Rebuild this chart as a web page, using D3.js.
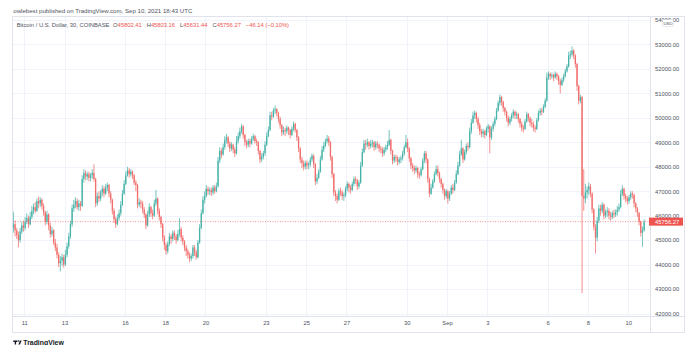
<!DOCTYPE html>
<html>
<head>
<meta charset="utf-8">
<script src="https://cdn.jsdelivr.net/npm/d3@7"></script>
<style>
  html, body { margin: 0; padding: 0; background: #ffffff; }
  svg { display: block; font-family: "Liberation Sans", Arial, sans-serif; }
</style>
</head>
<body>
<svg id="chart" width="687" height="345"></svg>
<script>
// BTC/USD on Coinbase, two-hour bars from 10 Aug 2021 10:00 UTC to 10 Sep 2021 18:00 UTC.
// Each bar opens at the previous bar's close; the first open is given separately.
const firstOpen = 45500;
const barStartUTC = Date.UTC(2021, 7, 10, 10);
const barHours = 2;

const closes = [
  /* Aug 10 */ 45650, 45400, 45200, 45000, 45350, 45600, 45500,
  /* Aug 11 */ 45750, 45900, 45650, 45950, 46200, 46350, 46200, 46600, 46500, 46650, 46400, 46150,
  /* Aug 12 */ 45750, 46050, 45600, 45250, 45400, 44900, 44700, 44400, 44050, 44150, 44300, 44000,
  /* Aug 13 */ 44400, 44750, 45150, 45650, 46300, 46450, 46600, 46350, 46500, 46400, 47500, 47750,
  /* Aug 14 */ 47600, 47700, 47550, 47650, 47750, 47500, 46500, 46800, 46700, 46950, 47100, 46900,
  /* Aug 15 */ 47150, 47250, 46900, 46650, 46200, 45850, 45650, 45900, 46100, 46450, 46900, 47300,
  /* Aug 16 */ 47650, 47850, 47700, 47800, 47650, 47350, 47250, 46450, 46550, 46500, 46250, 46050,
  /* Aug 17 */ 45600, 46050, 46350, 46100, 46000, 46500, 46700, 46200, 45950, 45650, 45100, 44800,
  /* Aug 18 */ 44550, 44850, 45150, 45050, 45300, 45150, 45000, 45250, 45450, 45100, 44950, 44700,
  /* Aug 19 */ 44550, 44400, 44250, 44350, 44700, 44500, 44300, 44900, 45500, 46100, 46650, 46800,
  /* Aug 20 */ 47100, 47000, 47050, 46950, 47150, 47000, 47200, 48250, 48650, 48500, 48800, 49100,
  /* Aug 21 */ 49200, 48950, 48750, 48900, 48700, 48550, 49050, 49250, 49450, 49650, 49300, 49000,
  /* Aug 22 */ 48900, 49050, 48950, 49150, 49250, 49050, 49000, 48650, 48300, 48400, 48550, 48900,
  /* Aug 23 */ 49250, 49500, 50100, 50050, 50300, 50350, 50200, 49950, 49700, 49400, 49500, 49450,
  /* Aug 24 */ 49600, 49500, 49300, 49550, 49750, 49500, 49200, 48750, 48300, 48150, 48000, 48150,
  /* Aug 25 */ 48050, 48100, 48300, 48450, 48100, 47400, 47550, 47800, 48300, 48700, 48850, 49050,
  /* Aug 26 */ 49150, 49000, 48400, 47700, 46950, 46800, 46650, 47000, 46950, 46800, 46850, 47100,
  /* Aug 27 */ 47300, 47150, 47050, 47300, 47500, 47450, 47200, 47350, 48050, 48600, 48950, 48900,
  /* Aug 28 */ 49000, 48850, 48950, 49000, 48800, 48950, 48900, 48750, 48700, 48550, 48700, 48800,
  /* Aug 29 */ 48900, 49100, 48650, 48250, 48400, 48350, 48200, 48300, 48350, 48550, 48800, 49000,
  /* Aug 30 */ 48750, 48350, 48050, 47950, 47850, 47950, 47700, 47650, 47900, 48250, 48550, 48300,
  /* Aug 31 */ 47500, 46900, 47150, 47400, 47700, 47900, 47750, 47500, 47300, 47050, 46800, 47000,
  /* Sep 1  */ 46700, 46900, 47150, 47050, 47350, 47700, 48050, 48500, 48750, 48300, 48600, 48850,
  /* Sep 2  */ 48800, 49450, 49800, 50100, 50200, 49950, 49700, 49450, 49350, 49450, 49300, 49550,
  /* Sep 3  */ 49650, 49200, 49550, 49750, 49950, 50300, 50600, 50850, 50650, 50400, 50250, 50000,
  /* Sep 4  */ 49800, 49950, 50100, 50250, 50100, 50150, 49950, 49750, 49600, 49550, 49850, 50150,
  /* Sep 5  */ 50000, 49800, 49750, 49600, 49550, 49900, 50200, 50300, 50250, 50450, 50700, 51650,
  /* Sep 6  */ 51800, 51700, 51750, 51650, 51800, 51700, 51500, 51350, 51550, 51700, 51900, 52100,
  /* Sep 7  */ 52550, 52600, 52750, 52550, 52200, 51300, 50700, 50850, 46800, 46700, 46950, 47050,
  /* Sep 8  */ 47200, 46900, 46250, 45550, 45100, 45800, 46300, 46200, 46450, 46000, 46150, 46200,
  /* Sep 9  */ 46000, 45950, 46100, 46050, 46150, 46250, 46350, 46900, 47100, 46800, 46700, 46600,
  /* Sep 10 */ 46750, 46900, 46850, 46500, 46300, 46100, 45750, 45300, 45400, 45756.27
];

const highs = [
  /* Aug 10 */ 46160, 45800, 45500, 45350, 45500, 45750, 45800,
  /* Aug 11 */ 45950, 46100, 46000, 46150, 46400, 46500, 46550, 46700, 46780, 46750, 46700, 46500,
  /* Aug 12 */ 46200, 46200, 46100, 45700, 45550, 45450, 45050, 44850, 44500, 44350, 44450, 44400,
  /* Aug 13 */ 44600, 44900, 45300, 45800, 46450, 46650, 46750, 46700, 46650, 46600, 47650, 47900,
  /* Aug 14 */ 47850, 47800, 47800, 47750, 47900, 48100, 47550, 46950, 47000, 47050, 47250, 47200,
  /* Aug 15 */ 47300, 47350, 47300, 47000, 46700, 46300, 45950, 46050, 46250, 46600, 47050, 47450,
  /* Aug 16 */ 47800, 48000, 47950, 47900, 47850, 47700, 47450, 47300, 46700, 46650, 46600, 46350,
  /* Aug 17 */ 46100, 46200, 46500, 46400, 46250, 46650, 47050, 46750, 46300, 46000, 45700, 45200,
  /* Aug 18 */ 44900, 44950, 45300, 45250, 45400, 45400, 45250, 45400, 45900, 45550, 45200, 45000,
  /* Aug 19 */ 44800, 44650, 44500, 44450, 44800, 44800, 44600, 45000, 45650, 46250, 46800, 47000,
  /* Aug 20 */ 47250, 47200, 47150, 47150, 47250, 47250, 47350, 48400, 48800, 48750, 48950, 49250,
  /* Aug 21 */ 49350, 49250, 49050, 49000, 48950, 48800, 49250, 49400, 49600, 49750, 49700, 49350,
  /* Aug 22 */ 49100, 49150, 49150, 49250, 49350, 49300, 49150, 49050, 48700, 48550, 48650, 49050,
  /* Aug 23 */ 49400, 49650, 50250, 50250, 50400, 50500, 50400, 50250, 50050, 49750, 49650, 49600,
  /* Aug 24 */ 49700, 49650, 49550, 49650, 49850, 49800, 49550, 49250, 48800, 48400, 48250, 48250,
  /* Aug 25 */ 48250, 48200, 48400, 48550, 48500, 48150, 47700, 47900, 48450, 48850, 49000, 49150,
  /* Aug 26 */ 49300, 49250, 49050, 48450, 47750, 47050, 46900, 47100, 47150, 47050, 46950, 47200,
  /* Aug 27 */ 47400, 47350, 47250, 47400, 47600, 47600, 47500, 47450, 48200, 48750, 49100, 49100,
  /* Aug 28 */ 49150, 49050, 49100, 49100, 49050, 49050, 49050, 48950, 48850, 48800, 48800, 48900,
  /* Aug 29 */ 49050, 49500, 49150, 48700, 48500, 48500, 48450, 48400, 48450, 48650, 48900, 49300,
  /* Aug 30 */ 49150, 48800, 48400, 48150, 48050, 48050, 48000, 47800, 48000, 48350, 48650, 48650,
  /* Aug 31 */ 48350, 47550, 47300, 47500, 47800, 48050, 48050, 47800, 47550, 47350, 47100, 47100,
  /* Sep 1  */ 47050, 47000, 47250, 47300, 47450, 47850, 48200, 48650, 49100, 48800, 48700, 48950,
  /* Sep 2  */ 49000, 49600, 49950, 50250, 50300, 50250, 50050, 49800, 49550, 49550, 49500, 49650,
  /* Sep 3  */ 49750, 49700, 49650, 49850, 50050, 50400, 50700, 50950, 50900, 50700, 50450, 50300,
  /* Sep 4  */ 50100, 50050, 50200, 50350, 50300, 50250, 50200, 50000, 49850, 49700, 49950, 50250,
  /* Sep 5  */ 50200, 50050, 49950, 49850, 49700, 50000, 50300, 50400, 50400, 50550, 50800, 51850,
  /* Sep 6  */ 51900, 51850, 51850, 51800, 51900, 51850, 51750, 51600, 51650, 51800, 52000, 52200,
  /* Sep 7  */ 52700, 52750, 52920, 52800, 52600, 52250, 51350, 50950, 50900, 47900, 47300, 47200,
  /* Sep 8  */ 47350, 47300, 46950, 46300, 45650, 45950, 46450, 46450, 46550, 46500, 46250, 46350,
  /* Sep 9  */ 46300, 46150, 46200, 46250, 46250, 46400, 46500, 47050, 47250, 47150, 46900, 46800,
  /* Sep 10 */ 46850, 47000, 47000, 46900, 46550, 46350, 46150, 45800, 45550, 45850
];

const lows = [
  /* Aug 10 */ 45300, 45150, 45050, 44700, 44900, 45250, 45350,
  /* Aug 11 */ 45400, 45650, 45500, 45600, 45850, 46050, 46100, 46150, 46300, 46350, 46250, 46000,
  /* Aug 12 */ 45600, 45650, 45400, 45100, 45150, 44800, 44550, 44250, 43900, 43720, 43950, 43880,
  /* Aug 13 */ 43950, 44300, 44650, 45050, 45550, 46150, 46300, 46250, 46200, 46200, 46350, 47350,
  /* Aug 14 */ 47450, 47450, 47400, 47400, 47500, 47400, 46350, 46400, 46550, 46600, 46800, 46750,
  /* Aug 15 */ 46850, 47000, 46750, 46500, 46050, 45700, 45500, 45600, 45800, 46000, 46400, 46850,
  /* Aug 16 */ 47250, 47600, 47550, 47600, 47500, 47250, 47000, 46300, 46350, 46300, 46100, 45900,
  /* Aug 17 */ 45450, 45550, 45950, 45950, 45850, 45950, 46400, 46050, 45800, 45500, 44950, 44600,
  /* Aug 18 */ 44400, 44450, 44750, 44850, 44950, 45000, 44850, 44950, 45150, 44950, 44800, 44550,
  /* Aug 19 */ 44350, 44250, 44100, 44150, 44250, 44350, 44200, 44250, 44850, 45450, 46050, 46500,
  /* Aug 20 */ 46750, 46850, 46850, 46800, 46850, 46900, 46950, 47150, 48150, 48350, 48450, 48700,
  /* Aug 21 */ 48950, 48800, 48600, 48650, 48550, 48400, 48500, 48950, 49150, 49350, 49150, 48850,
  /* Aug 22 */ 48750, 48800, 48800, 48900, 49050, 48950, 48850, 48500, 48150, 48200, 48300, 48450,
  /* Aug 23 */ 48850, 49200, 49450, 49900, 50000, 50150, 50050, 49800, 49550, 49250, 49300, 49250,
  /* Aug 24 */ 49350, 49300, 49150, 49250, 49450, 49400, 49050, 48600, 48150, 47950, 47850, 47900,
  /* Aug 25 */ 47900, 47900, 48000, 48200, 47950, 47250, 47300, 47500, 47750, 48250, 48600, 48800,
  /* Aug 26 */ 48950, 48850, 48250, 47550, 46800, 46600, 46500, 46600, 46800, 46650, 46600, 46750,
  /* Aug 27 */ 47000, 46950, 46900, 47000, 47200, 47300, 47050, 47100, 47300, 48000, 48550, 48700,
  /* Aug 28 */ 48800, 48700, 48750, 48800, 48650, 48700, 48750, 48600, 48550, 48400, 48450, 48600,
  /* Aug 29 */ 48700, 48850, 48500, 48100, 48150, 48200, 48050, 48100, 48150, 48250, 48450, 48750,
  /* Aug 30 */ 48600, 48200, 47900, 47800, 47700, 47750, 47550, 47500, 47600, 47850, 48150, 48150,
  /* Aug 31 */ 47350, 46750, 46850, 47100, 47350, 47650, 47600, 47350, 47150, 46900, 46650, 46700,
  /* Sep 1  */ 46500, 46600, 46850, 46900, 47000, 47300, 47650, 48000, 48450, 48150, 48250, 48500,
  /* Sep 2  */ 48650, 48750, 49350, 49750, 49950, 49800, 49550, 49300, 49200, 49200, 49150, 49250,
  /* Sep 3  */ 49400, 48550, 49100, 49450, 49650, 49900, 50250, 50500, 50500, 50250, 50100, 49850,
  /* Sep 4  */ 49650, 49700, 49850, 50000, 49950, 49950, 49800, 49600, 49450, 49400, 49500, 49800,
  /* Sep 5  */ 49850, 49650, 49600, 49450, 49400, 49500, 49850, 50100, 50100, 50200, 50400, 50650,
  /* Sep 6  */ 51550, 51550, 51600, 51500, 51600, 51550, 51350, 51000, 51300, 51450, 51650, 51850,
  /* Sep 7  */ 52050, 52400, 52500, 52400, 52050, 51100, 50550, 50600, 42830, 46200, 46500, 46700,
  /* Sep 8  */ 46850, 46750, 46100, 45400, 44450, 44950, 45700, 46000, 46100, 45850, 45900, 45950,
  /* Sep 9  */ 45850, 45800, 45850, 45900, 45950, 46000, 46150, 46300, 46800, 46650, 46550, 46450,
  /* Sep 10 */ 46500, 46650, 46700, 46350, 46150, 45950, 45600, 45150, 44730, 45350
];

// Price scale ticks and date ticks shown on the axes
const priceTicks = [42000, 43000, 44000, 45000, 46000, 47000, 48000, 49000, 50000, 51000, 52000, 53000, 54000];
const dateTicks = ["2021-08-11", "2021-08-13", "2021-08-16", "2021-08-18", "2021-08-20", "2021-08-23",
                   "2021-08-25", "2021-08-27", "2021-08-30", "2021-09-01", "2021-09-03", "2021-09-06",
                   "2021-09-08", "2021-09-10"];
const dateTickLabels = ["11", "13", "16", "18", "20", "23", "25", "27", "30", "Sep", "3", "6", "8", "10"];

// Header / legend values of the last 30-minute bar
const publishLine = "owlebest published on TradingView.com, Sep 10, 2021 18:43 UTC";
const symbolTitle = "Bitcoin / U.S. Dollar, 30, COINBASE";
const ohlcLabels = ["O", "H", "L", "C"];
const ohlcValues = [45802.41, 45803.16, 45631.44, 45756.27];
const changeText = "\u221246.14 (\u22120.10%)";
const lastPrice = 45756.27;

// ---------- layout ----------
const W = 687, H = 345;
const frame = { left: 12.5, top: 16.5, plotRight: 650.5, right: 684.5, axisTop: 316.5, bottom: 332.5 };
const UP = "#26a69a", DOWN = "#ef5350";
const GRID = "#f0f3fa", BORDER = "#e0e3eb", TEXT = "#4c525e";

const svg = d3.select("#chart");

const x = d3.scaleUtc()
  .domain([new Date(Date.UTC(2021, 7, 11)), new Date(Date.UTC(2021, 8, 10))])
  .range([24.3, 628.2]);
const y = d3.scaleLinear().domain([42000, 54000]).range([313.5, 20]);

// bars
const bars = closes.map((c, i) => {
  const t = barStartUTC + i * barHours * 3600e3;
  const o = i === 0 ? firstOpen : closes[i - 1];
  return { t: new Date(t), mid: new Date(t + barHours * 1800e3), o, h: Math.max(highs[i], o, c), l: Math.min(lows[i], o, c), c };
});

svg.append("defs").append("clipPath").attr("id", "plot-clip")
  .append("rect")
  .attr("x", frame.left).attr("y", frame.top)
  .attr("width", frame.plotRight - frame.left).attr("height", frame.axisTop - frame.top);

// grid
const grid = svg.append("g").attr("class", "grid");
grid.selectAll("line.h").data(priceTicks).join("line")
  .attr("class", "h")
  .attr("x1", frame.left).attr("x2", frame.plotRight)
  .attr("y1", d => Math.round(y(d)) + 0.5).attr("y2", d => Math.round(y(d)) + 0.5)
  .attr("stroke", GRID).attr("stroke-width", 1);
grid.selectAll("line.v").data(dateTicks.map(d => new Date(d + "T00:00:00Z"))).join("line")
  .attr("class", "v")
  .attr("x1", d => Math.round(x(d)) + 0.5).attr("x2", d => Math.round(x(d)) + 0.5)
  .attr("y1", frame.top).attr("y2", frame.axisTop)
  .attr("stroke", GRID).attr("stroke-width", 1);

// candles
const bw = 1.3;
const candles = svg.append("g").attr("clip-path", "url(#plot-clip)").attr("opacity", 0.85)
  .selectAll("g").data(bars).join("g")
  .attr("fill", d => d.c >= d.o ? UP : DOWN)
  .attr("stroke", d => d.c >= d.o ? UP : DOWN);
candles.append("line")
  .attr("x1", d => x(d.mid)).attr("x2", d => x(d.mid))
  .attr("y1", d => y(d.h)).attr("y2", d => y(d.l))
  .attr("stroke-width", 0.75);
candles.append("rect")
  .attr("stroke", "none")
  .attr("x", d => x(d.mid) - bw / 2).attr("width", bw)
  .attr("y", d => y(Math.max(d.o, d.c)))
  .attr("height", d => Math.max(0.6, Math.abs(y(d.o) - y(d.c))));

// last-price line
svg.append("line")
  .attr("x1", frame.left).attr("x2", frame.plotRight)
  .attr("y1", y(lastPrice)).attr("y2", y(lastPrice))
  .attr("stroke", DOWN).attr("stroke-width", 0.8).attr("stroke-dasharray", "1,1.5").attr("opacity", 0.75);

// frame
const fr = svg.append("g").attr("fill", "none").attr("stroke", BORDER).attr("stroke-width", 1);
fr.append("rect").attr("x", frame.left).attr("y", frame.top)
  .attr("width", frame.right - frame.left).attr("height", frame.bottom - frame.top);
fr.append("line").attr("x1", frame.plotRight).attr("x2", frame.plotRight).attr("y1", frame.top).attr("y2", frame.bottom);
fr.append("line").attr("x1", frame.left).attr("x2", frame.right).attr("y1", frame.axisTop).attr("y2", frame.axisTop);

// price axis
const yAxis = svg.append("g")
  .attr("transform", `translate(${frame.plotRight},0)`)
  .call(d3.axisRight(y).tickValues(priceTicks).tickFormat(d3.format(".2f")).tickSize(0).tickPadding(4.5));
yAxis.select(".domain").remove();
yAxis.selectAll("text").attr("fill", TEXT).attr("font-size", 5.8).attr("font-family", "Liberation Sans, Arial, sans-serif");

// time axis
const xAxis = svg.append("g")
  .attr("transform", `translate(0,${frame.axisTop})`)
  .call(d3.axisBottom(x)
    .tickValues(dateTicks.map(d => new Date(d + "T00:00:00Z")))
    .tickFormat((d, i) => dateTickLabels[i])
    .tickSize(0).tickPadding(4.6));
xAxis.select(".domain").remove();
xAxis.selectAll("text").attr("fill", TEXT).attr("font-size", 5.8).attr("font-family", "Liberation Sans, Arial, sans-serif");

// last-price tag on the price axis
const tagY = y(lastPrice);
svg.append("rect").attr("x", frame.plotRight - 1.5).attr("y", tagY - 4)
  .attr("width", 34).attr("height", 8).attr("fill", DOWN);
svg.append("text").attr("x", frame.plotRight + 4.5).attr("y", tagY).attr("dy", "0.34em")
  .attr("font-size", 5.8).attr("fill", "#ffffff").text(d3.format(".2f")(lastPrice));

// currency badge, drawn over the top price label
svg.append("rect").attr("x", 662.5).attr("y", 19.5).attr("width", 11).attr("height", 7).attr("rx", 1)
  .attr("fill", "#ffffff").attr("stroke", "#b2b5be").attr("stroke-width", 0.5).attr("stroke-dasharray", "0.8,0.6");
svg.append("text").attr("x", 668).attr("y", 23).attr("dy", "0.35em").attr("text-anchor", "middle")
  .attr("font-size", 4.3).attr("fill", TEXT).text("USD");

// header lines
svg.append("text").attr("x", 13.3).attr("y", 13.2).attr("font-size", 6.1).attr("fill", "#50535e").text(publishLine);

const legend = svg.append("text").attr("x", 16.7).attr("y", 27.1).attr("font-size", 5.8).attr("fill", "#50535e");
legend.append("tspan").text(symbolTitle);
ohlcLabels.forEach((lab, i) => {
  legend.append("tspan").attr("dx", i === 0 ? 3.5 : 5).attr("fill", "#50535e").text(lab);
  legend.append("tspan").attr("fill", DOWN).text(d3.format(".2f")(ohlcValues[i]));
});
legend.append("tspan").attr("dx", 5).attr("fill", DOWN).text(changeText);

// TradingView mark
const logo = svg.append("g").attr("fill", "#131722");
logo.append("path").attr("d", "M13.3 340.4 h4.2 v1.5 h-1.4 v2.6 h-1.4 v-2.6 h-1.4 z");
logo.append("circle").attr("cx", 18.6).attr("cy", 341.1).attr("r", 0.75);
logo.append("path").attr("d", "M20.0 340.4 h1.6 l-1.6 4.1 h-1.6 z");
svg.append("text").attr("x", 23.3).attr("y", 344.6).attr("font-size", 6.9).attr("font-weight", "bold")
  .attr("fill", "#131722").text("TradingView");
</script>
</body>
</html>
